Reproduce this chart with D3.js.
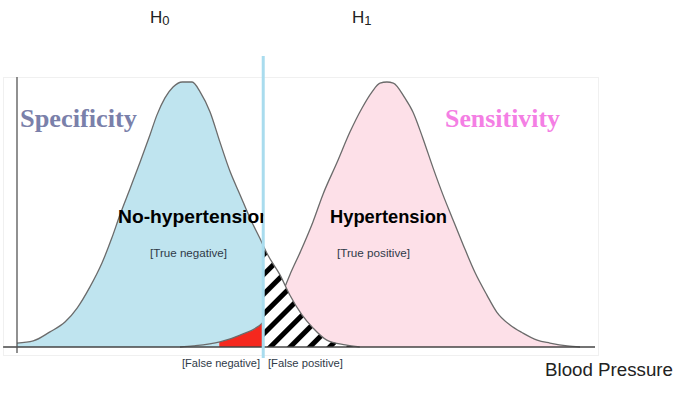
<!DOCTYPE html>
<html>
<head>
<meta charset="utf-8">
<script src="https://cdn.jsdelivr.net/npm/d3@7"></script>
<style>
  body { margin: 0; background: #fff; }
  svg { display: block; }
</style>
</head>
<body>
<script>
const width = 687
const height = 398

// blood pressure (arbitrary units) and relative density
const healthyX = [0, 2.8, 5.7, 8.3, 10.4, 12.6, 14.7, 16.4, 17.8, 19.6, 21.3, 23.0, 24.2, 25.6, 27.0, 28.6, 30.3, 31.7, 33.4, 35.1, 36.9, 38.6, 40.3, 42.0, 43.4, 45.5, 47.2, 49.3, 51.2, 53.6, 56.8, 59.3]
const healthyY = [0.015, 0.023, 0.057, 0.094, 0.147, 0.226, 0.317, 0.411, 0.498, 0.600, 0.698, 0.800, 0.875, 0.940, 0.981, 1.0, 1.0, 0.962, 0.887, 0.774, 0.660, 0.574, 0.487, 0.411, 0.347, 0.272, 0.196, 0.121, 0.072, 0.026, 0.008, 0]
const hyperX = [28.2, 30.5, 35.1, 38.6, 42.6, 46.0, 47.2, 49.0, 51.2, 52.9, 55.4, 57.6, 59.7, 61.4, 62.8, 64.0, 65.1, 67.1, 68.5, 70.2, 72.0, 73.7, 75.3, 77.2, 79.2, 81.3, 83.0, 85.3, 87.5, 90.0, 92.2, 95.2, 97.4]
const hyperY = [0, 0.004, 0.019, 0.045, 0.094, 0.208, 0.272, 0.358, 0.472, 0.574, 0.698, 0.811, 0.902, 0.962, 0.996, 1.0, 0.996, 0.940, 0.887, 0.789, 0.675, 0.574, 0.487, 0.385, 0.283, 0.196, 0.132, 0.083, 0.053, 0.026, 0.015, 0.004, 0]
const cutoff = 42.6
const falseNegFrom = 35

const healthy = healthyX.map((d, i) => [d, healthyY[i]])
const hyper = hyperX.map((d, i) => [d, hyperY[i]])

const x = d3.scaleLinear().domain([0, 100]).range([17, 595])
const y = d3.scaleLinear().domain([0, 1]).range([347, 82])

const svg = d3.select('body').append('svg')
  .attr('width', width)
  .attr('height', height)

const defs = svg.append('defs')
defs.append('pattern')
  .attr('id', 'hatch')
  .attr('patternUnits', 'userSpaceOnUse')
  .attr('width', 14)
  .attr('height', 14)
  .attr('patternTransform', 'rotate(45)')
  .append('rect')
    .attr('width', 5)
    .attr('height', 14)
    .attr('fill', '#000')

const clip = (id, x0, x1) => defs.append('clipPath').attr('id', id)
  .append('rect').attr('x', x0).attr('y', 0).attr('width', x1 - x0).attr('height', height)
clip('left', 0, x(cutoff))
clip('right', x(cutoff), width)
clip('red', x(falseNegFrom), x(cutoff))

const area = d3.area()
  .x(d => x(d[0]))
  .y0(y(0))
  .y1(d => y(d[1]))
  .curve(d3.curveMonotoneX)
const line = d3.line()
  .x(d => x(d[0]))
  .y(d => y(d[1]))
  .curve(d3.curveMonotoneX)

// faint frame
svg.append('rect')
  .attr('x', 3.5).attr('y', 77.5).attr('width', 595).attr('height', 278)
  .attr('fill', 'none').attr('stroke', '#f0f0f0')

svg.append('path').datum(hyper).attr('d', area).attr('fill', '#fde0e8')
svg.append('path').datum(healthy).attr('d', area).attr('fill', '#bfe4ef').attr('clip-path', 'url(#left)')
svg.append('path').datum(hyper).attr('d', area).attr('fill', '#f5281e').attr('clip-path', 'url(#red)')
svg.append('path').datum(hyper).attr('d', line)
  .attr('fill', 'none').attr('stroke', '#6b6b6b').attr('stroke-width', 1.3)
svg.append('path').datum(healthy).attr('d', area).attr('fill', '#fff').attr('clip-path', 'url(#right)')
svg.append('path').datum(healthy).attr('d', area).attr('fill', 'url(#hatch)').attr('clip-path', 'url(#right)')
svg.append('path').datum(healthy).attr('d', line)
  .attr('fill', 'none').attr('stroke', '#6b6b6b').attr('stroke-width', 1.3)

// axes
svg.append('line')
  .attr('x1', x(-2.4)).attr('x2', x(100)).attr('y1', y(0)).attr('y2', y(0))
  .attr('stroke', '#444').attr('stroke-width', 1.5)
svg.append('line')
  .attr('x1', x(0)).attr('x2', x(0)).attr('y1', 77).attr('y2', 353)
  .attr('stroke', '#555').attr('stroke-width', 1.3)

// cut-off line
svg.append('line')
  .attr('x1', x(cutoff)).attr('x2', x(cutoff)).attr('y1', 56).attr('y2', 358)
  .attr('stroke', '#a9dcee').attr('stroke-width', 3)

const sans = 'Liberation Sans, Arial, sans-serif'
const hyp = (label, sub, px) => {
  const t = svg.append('text').attr('x', px).attr('y', 23)
    .attr('font-family', sans).attr('font-size', 17).attr('fill', '#222')
  t.append('tspan').text(label)
  t.append('tspan').attr('font-size', 13).attr('dy', 2).text(sub)
}
hyp('H', '0', 150)
hyp('H', '1', 352)

svg.append('text').attr('x', 20).attr('y', 127)
  .attr('font-family', 'Liberation Serif, serif').attr('font-size', 25).attr('font-weight', 'bold')
  .attr('textLength', 117).attr('lengthAdjust', 'spacingAndGlyphs')
  .attr('fill', '#7a80aa').text('Specificity')
svg.append('text').attr('x', 445).attr('y', 127)
  .attr('font-family', 'Liberation Serif, serif').attr('font-size', 25).attr('font-weight', 'bold')
  .attr('textLength', 115).attr('lengthAdjust', 'spacingAndGlyphs')
  .attr('fill', '#f47fe4').text('Sensitivity')

svg.append('text').attr('x', 118).attr('y', 223)
  .attr('font-family', sans).attr('font-weight', 'bold').attr('font-size', 18.5)
  .attr('textLength', 153).attr('lengthAdjust', 'spacingAndGlyphs')
  .attr('fill', '#000').attr('clip-path', 'url(#left)').text('No-hypertension')
svg.append('text').attr('x', 330).attr('y', 223)
  .attr('font-family', sans).attr('font-weight', 'bold').attr('font-size', 18.5)
  .attr('textLength', 117).attr('lengthAdjust', 'spacingAndGlyphs')
  .attr('fill', '#000').text('Hypertension')

const small = (txt, px, py, w) => svg.append('text').attr('x', px).attr('y', py)
  .attr('font-family', sans).attr('font-size', 11.5).attr('fill', '#2f3a48')
  .attr('textLength', w).attr('lengthAdjust', 'spacingAndGlyphs').text(txt)
small('[True negative]', 150, 257, 77)
small('[True positive]', 337, 257, 73)
small('[False negative]', 182, 367, 78)
small('[False positive]', 268, 367, 75)

svg.append('text').attr('x', 545).attr('y', 376)
  .attr('font-family', sans).attr('font-size', 18).attr('fill', '#222')
  .attr('textLength', 128).attr('lengthAdjust', 'spacingAndGlyphs')
  .text('Blood Pressure')
</script>
</body>
</html>
